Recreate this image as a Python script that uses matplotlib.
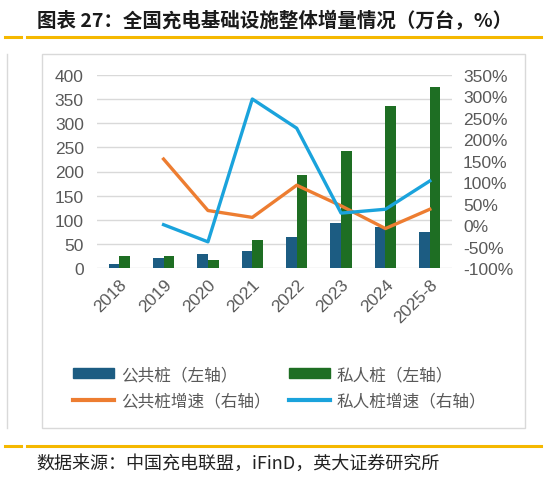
import numpy as np
import matplotlib.pyplot as plt
from matplotlib.patches import Patch, Rectangle
from matplotlib.lines import Line2D
from matplotlib import font_manager

# data (万台, %)
years = ['2018', '2019', '2020', '2021', '2022', '2023', '2024', '2025-8']
public_add = [8, 21, 29, 35, 65, 93, 84, 74]
private_add = [24, 24, 16, 59, 193, 243, 335, 376]
public_growth = [np.nan, 154, 34, 18, 93, 45, -8, 37]
private_growth = [np.nan, 1, -39, 294, 226, 28, 37, 103]

C_PUB = '#1c5c82'
C_PRI = '#1e6e23'
C_PUB_G = '#ed7d31'
C_PRI_G = '#1aa3dc'
GRID = '#d9d9d9'
TXT = '#595959'
YEL = '#f5b800'

installed = {f.name for f in font_manager.fontManager.ttflist}
num_font = [f for f in ['Liberation Sans Narrow', 'Liberation Sans'] if f in installed] + ['DejaVu Sans']
cjk_font = ['Noto Sans CJK SC', 'DejaVu Sans']
plt.rcParams['font.family'] = num_font[:1] + cjk_font

fig = plt.figure(figsize=(5.47, 4.85), dpi=100)
W, H = 547, 485

def fx(px):
    return px / W

def fy(py):
    return 1 - py / H

# title, source and yellow rules
fig.text(fx(37), fy(21), '图表 27：全国充电基础设施整体增量情况（万台，%）', fontsize=14,
         fontweight='bold', family=cjk_font, va='center', ha='left', color='#1a1a1a')
for yy in (38, 447):
    fig.add_artist(Line2D([fx(5), fx(21)], [fy(yy), fy(yy)], color=YEL, lw=2.2))
    fig.add_artist(Line2D([fx(27), fx(541)], [fy(yy), fy(yy)], color=YEL, lw=2.2))
fig.text(fx(36), fy(464), '数据来源：中国充电联盟，iFinD，英大证券研究所', fontsize=13,
         family=cjk_font, va='center', ha='left', color='#222222')

# chart frame
fig.add_artist(Rectangle((fx(42), fy(429)), fx(525) - fx(42), fy(55) - fy(429),
                         fill=False, ec=GRID, lw=1))
fig.add_artist(Line2D([fx(7), fx(7)], [fy(55), fy(429)], color=GRID, lw=1))

ax = fig.add_axes([fx(97), fy(269), fx(452) - fx(97), fy(76) - fy(269)])
x = np.arange(len(years))
bw = 0.24
ax.bar(x - bw / 2, public_add, bw, color=C_PUB, zorder=2)
ax.bar(x + bw / 2, private_add, bw, color=C_PRI, zorder=2)
ax.set_ylim(0, 400)
ax.set_yticks(range(0, 401, 50))
ax.set_xlim(-0.5, 7.5)
ax.set_xticks(x)
ax.set_xticklabels(years, rotation=45, ha='right', rotation_mode='anchor')
ax.grid(axis='y', color=GRID, lw=1, zorder=0)
ax.set_axisbelow(True)
for s in ax.spines.values():
    s.set_visible(False)
ax.tick_params(length=0, colors=TXT, labelsize=12.5)
ax.tick_params(axis='y', pad=9.5)
ax.tick_params(axis='x', pad=6)

ax2 = ax.twinx()
ax2.plot(x, np.array(public_growth) / 100, color=C_PUB_G, lw=2.4, zorder=3)
ax2.plot(x, np.array(private_growth) / 100, color=C_PRI_G, lw=2.4, zorder=3)
ax2.set_ylim(-1, 3.5)
ax2.set_yticks(np.arange(-1, 3.51, 0.5))
ax2.set_yticklabels([f'{int(round(v * 100))}%' for v in np.arange(-1, 3.51, 0.5)])
for s in ax2.spines.values():
    s.set_visible(False)
ax2.tick_params(length=0, colors=TXT, labelsize=12.5, pad=8)

handles = [Patch(color=C_PUB), Line2D([], [], color=C_PUB_G, lw=3),
           Patch(color=C_PRI), Line2D([], [], color=C_PRI_G, lw=3)]
labels = ['公共桩（左轴）', '公共桩增速（右轴）', '私人桩（左轴）', '私人桩增速（右轴）']
leg = fig.legend(handles, labels, ncol=2, loc='upper left', bbox_to_anchor=(fx(58), fy(352)),
                 frameon=False, handlelength=2.45, handleheight=0.6, columnspacing=1.1,
                 labelspacing=0.58, handletextpad=0.42,
                 prop={'family': cjk_font, 'size': 12})
for t in leg.get_texts():
    t.set_color(TXT)

fig.savefig('out.png', dpi=100)
